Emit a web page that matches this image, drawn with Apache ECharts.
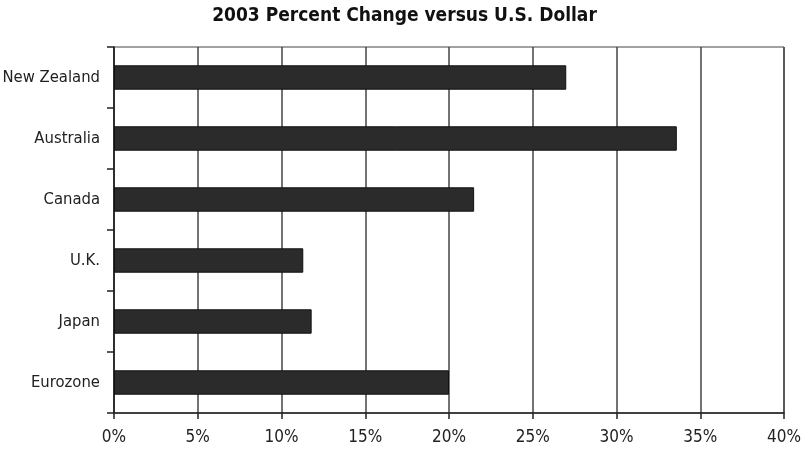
<!DOCTYPE html>
<html>
<head>
<meta charset="utf-8">
<script src="https://cdn.jsdelivr.net/npm/echarts@6/dist/echarts.min.js"></script>
<style>
  html, body { margin: 0; padding: 0; background: #fff; }
  #chart { width: 809px; height: 450px; }
</style>
</head>
<body>
<div id="chart"></div>
<script>
const regions = ['New Zealand', 'Australia', 'Canada', 'U.K.', 'Japan', 'Eurozone'];
const pctChange = [27.0, 33.6, 21.5, 11.3, 11.8, 20.0];

const fontName = '"DejaVu Sans Condensed", "Liberation Sans Narrow", sans-serif';

const chart = echarts.init(document.getElementById('chart'));

chart.setOption({
  animation: false,
  title: {
    text: '2003 Percent Change versus U.S. Dollar',
    left: 'center',
    top: 2,
    textStyle: {
      fontFamily: fontName,
      fontWeight: 'bold',
      fontSize: 19,
      color: '#111',
    },
  },
  grid: {
    left: 114,
    right: 25,
    top: 47,
    bottom: 37,
    outerBoundsMode: 'none',
    containLabel: false,
    show: true,
    borderColor: '#444',
    borderWidth: 1,
  },
  xAxis: {
    type: 'value',
    min: 0,
    max: 40,
    interval: 5,
    axisLine: { show: true, lineStyle: { color: '#222', width: 1.5 } },
    axisTick: { show: true, length: 6, lineStyle: { color: '#222', width: 1.5 } },
    splitLine: { show: true, lineStyle: { color: '#444', width: 1.5 } },
    axisLabel: {
      formatter: '{value}%',
      fontFamily: fontName,
      fontSize: 17,
      color: '#222',
      margin: 16,
    },
  },
  yAxis: {
    type: 'category',
    data: regions,
    inverse: true,
    axisLine: { show: true, lineStyle: { color: '#222', width: 1.5 } },
    axisTick: { show: true, length: 7, lineStyle: { color: '#222', width: 1.5 } },
    axisLabel: {
      fontFamily: fontName,
      fontSize: 16.5,
      color: '#222',
      margin: 14,
    },
  },
  series: [
    {
      type: 'bar',
      data: pctChange,
      barCategoryGap: '60%',
      itemStyle: {
        color: '#2b2b2b',
        borderColor: '#111',
        borderWidth: 1,
      },
    },
  ],
});
</script>
</body>
</html>
